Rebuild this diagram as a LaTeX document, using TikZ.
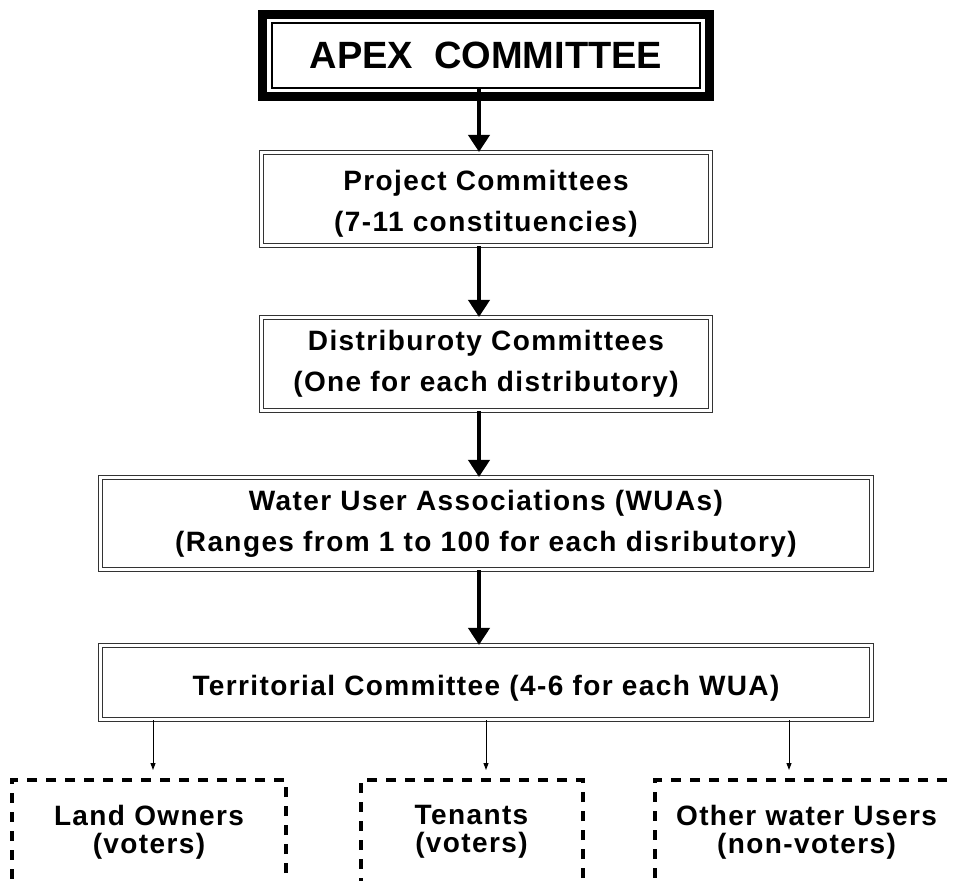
\documentclass[tikz,border=0pt]{standalone}
\usepackage{fontspec}
\setmainfont{Liberation Sans}
\newfontfamily\boxfont[LetterSpace=5]{Liberation Sans}
\usetikzlibrary{arrows.meta}

\tikzset{
  dblbox/.style={draw=black!80, double=white, line width=1.1pt, double distance=3.6pt,
    align=center, inner sep=0pt, font=\boxfont\bfseries\fontsize{28}{41}\selectfont},
  dashbox/.style={draw, line width=4pt, dash pattern=on 10pt off 9pt,
    align=center, inner sep=0pt, font=\boxfont\bfseries\fontsize{28}{28}\selectfont},
  bigarrow/.style={line width=4pt, -{Triangle[length=17pt,width=21pt]}},
  smallarrow/.style={line width=1pt, -{Triangle[length=7pt,width=5pt]}}
}

\begin{document}
\begin{tikzpicture}[x=1pt, y=-1pt]
        \useasboundingbox (0,0) rectangle (954,881);
        \clip (0,0) rectangle (954,881);

        % apex box, thick frame round a thin one
        \node[draw, line width=1.3pt, minimum width=428, minimum height=65, inner sep=0pt,
              font=\bfseries\fontsize{38}{42}\selectfont] (apex) at (486,55.5) {APEX\ \ COMMITTEE};
        \draw[line width=9pt] ([shift={(-8.5pt,8pt)}]apex.north west) rectangle ([shift={(8.5pt,-8pt)}]apex.south east);

        \node[dblbox, minimum width=449, minimum height=93] (proj) at (486,199) {\rule{0pt}{30pt}Project Committees\\(7-11 constituencies)};
        \node[dblbox, minimum width=449, minimum height=93] (dist) at (486,364) {Distriburoty Committees\\(One for each distributory)};
        \node[dblbox, minimum width=771, minimum height=92] (wua) at (486,523.5) {Water User Associations (WUAs)\\(Ranges from 1 to 100 for each disributory)};
        \node[dblbox, minimum width=771, minimum height=74, text height=31pt] (terr) at (486,682.5) {Territorial Committee (4-6 for each WUA)};

        %\draw[red] (0,780) -- (954,780);

        \node[dashbox, minimum width=274, minimum height=104] (land) at (149,832) {Land Owners\\(voters)};
        \node[dashbox, minimum width=222, minimum height=104] (tenant) at (471.5,832) {Tenants\\(voters)};
        \node[dashbox, minimum width=303, minimum height=104] (other) at (806.5,832) {Other water Users\\(non-voters)};

        \draw[bigarrow] ([xshift=-7pt]apex.south) -- ([xshift=-7pt]proj.north);
        \draw[bigarrow] ([xshift=-7pt]proj.south) -- ([xshift=-7pt]dist.north);
        \draw[bigarrow] ([xshift=-7pt]dist.south) -- ([xshift=-7pt]wua.north);
        \draw[bigarrow] ([xshift=-7pt]wua.south) -- ([xshift=-7pt]terr.north);

        \draw[smallarrow] ([xshift=4pt]land.north |- terr.south) -- ([shift={(4pt,8pt)}]land.north);
        \draw[smallarrow] ([xshift=14.5pt]tenant.north |- terr.south) -- ([shift={(14.5pt,8pt)}]tenant.north);
        \draw[smallarrow] ([xshift=-17.5pt]other.north |- terr.south) -- ([shift={(-17.5pt,8pt)}]other.north);
\end{tikzpicture}
\end{document}
